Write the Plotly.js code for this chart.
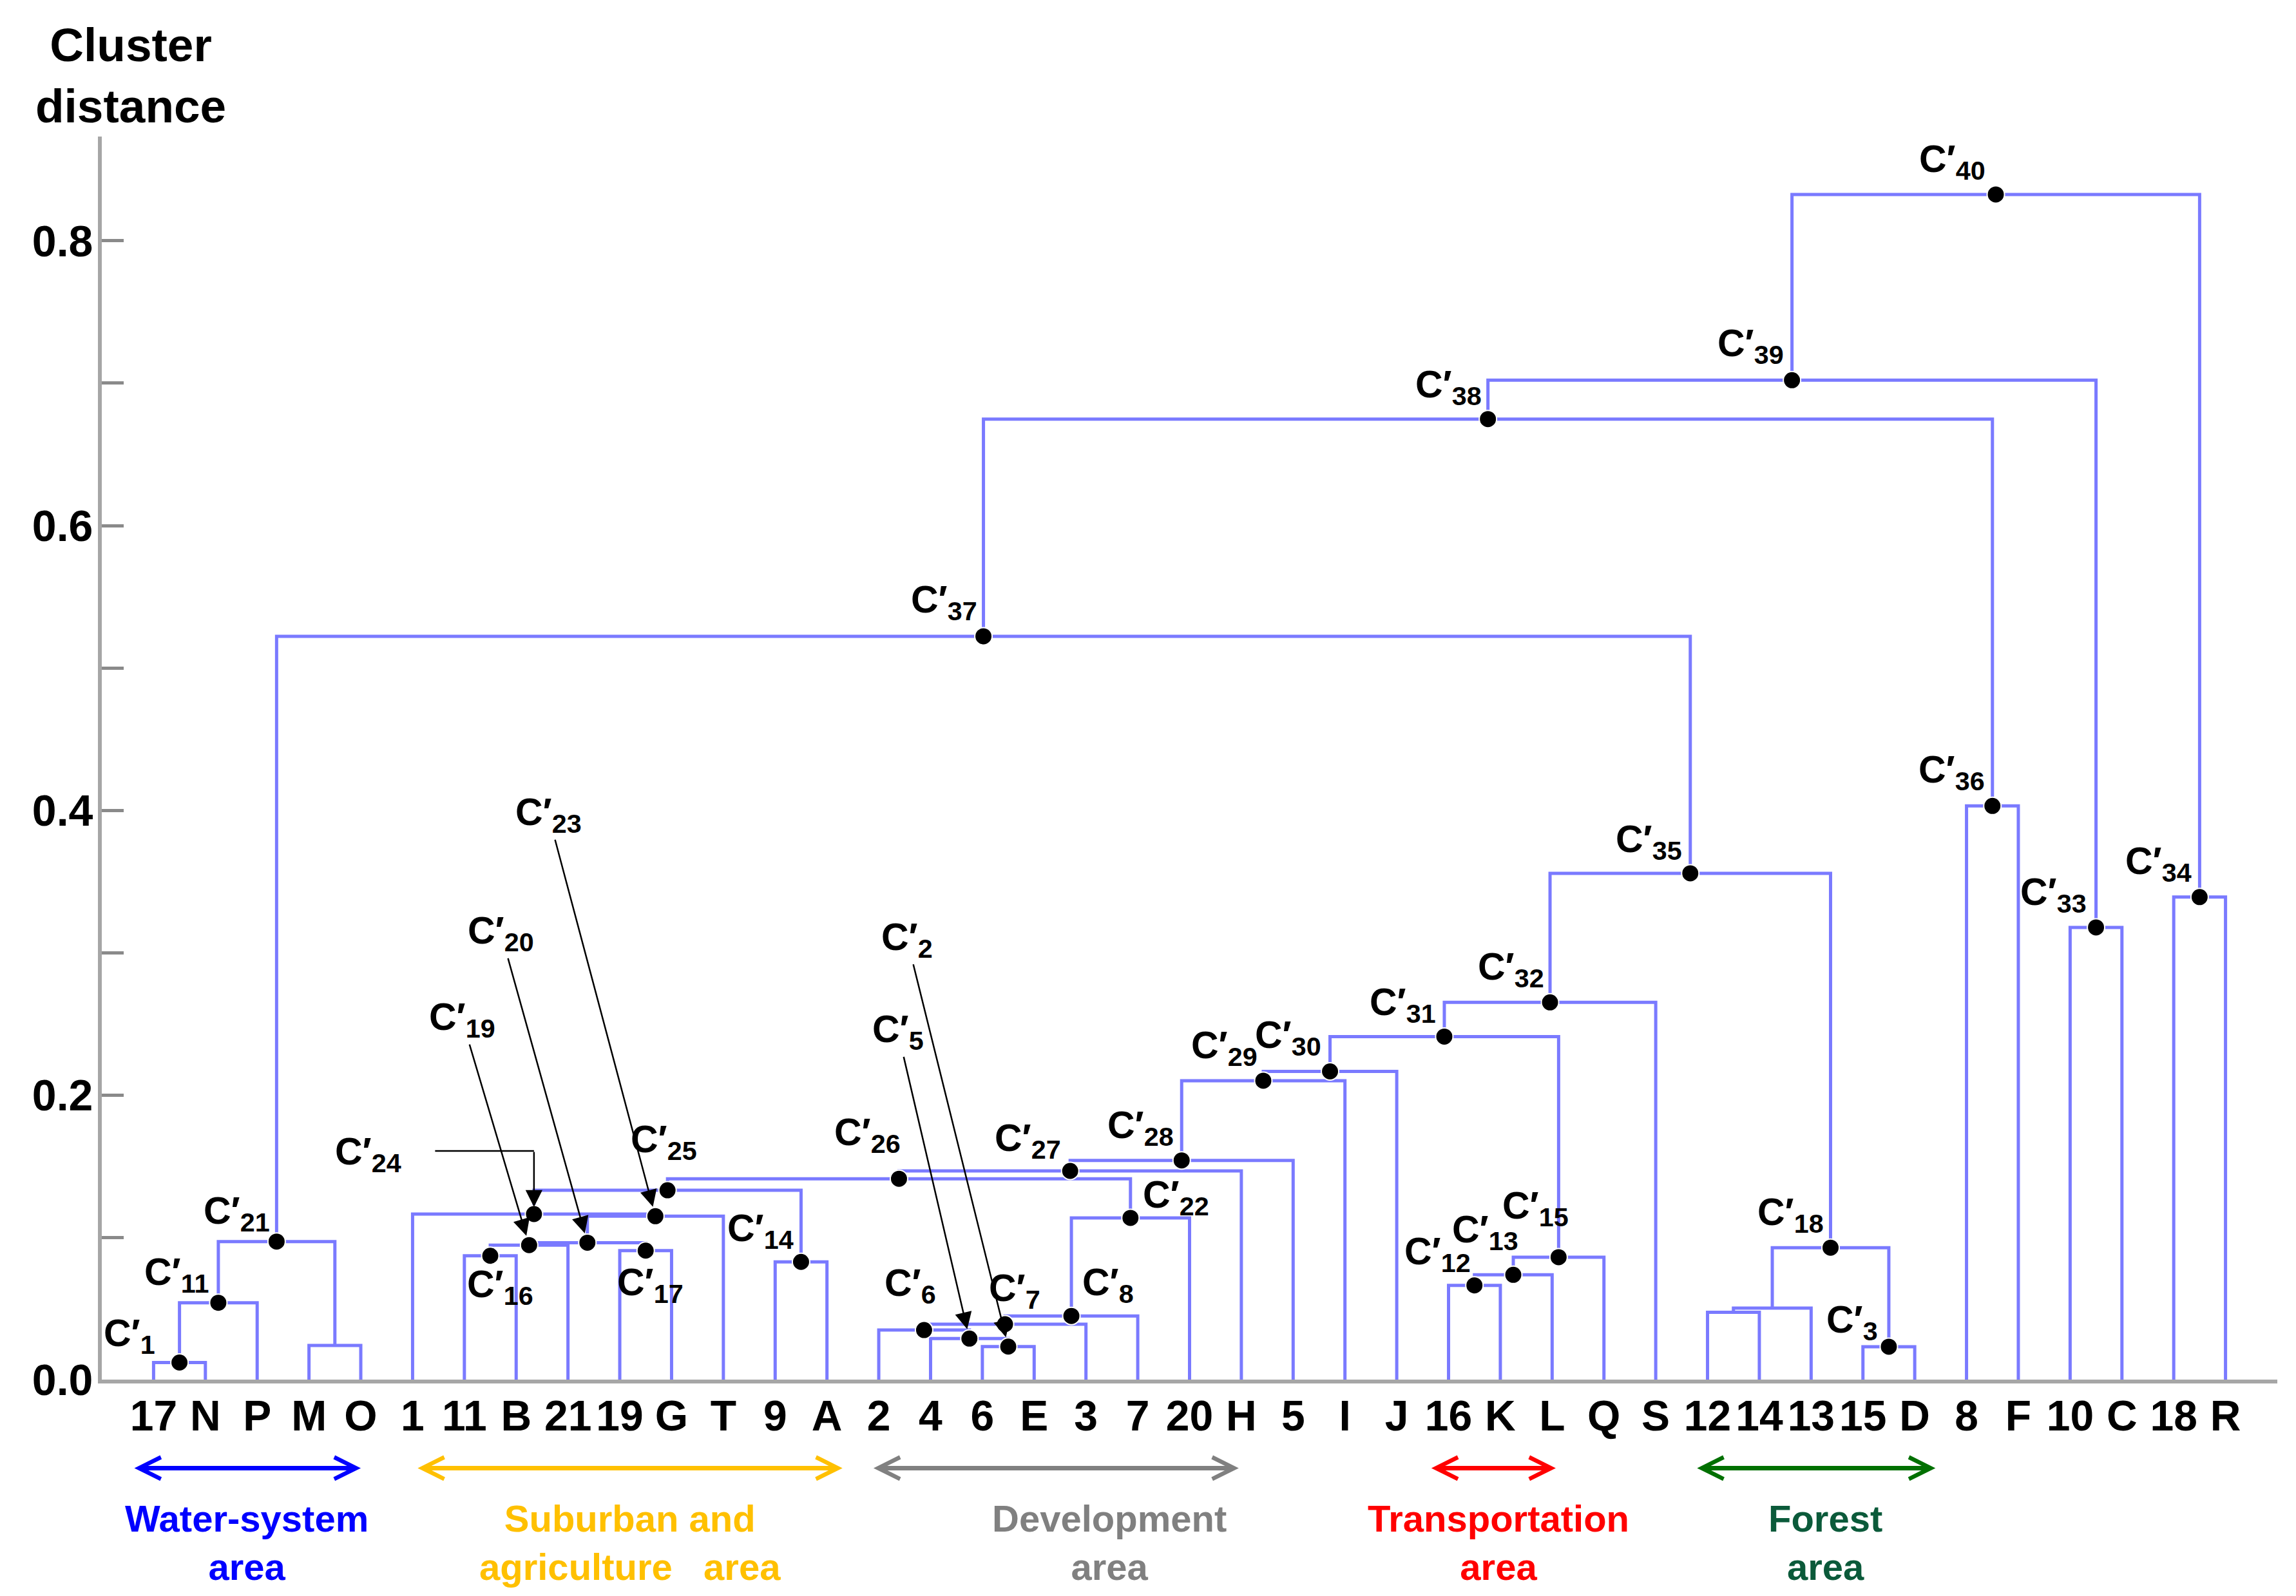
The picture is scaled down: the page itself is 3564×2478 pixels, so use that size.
<!DOCTYPE html>
<html>
<head>
<meta charset="utf-8">
<script src="https://cdn.plot.ly/plotly-3.0.1.min.js"></script>
<style>
html,body{margin:0;padding:0;background:#ffffff;}
#chart{width:3564px;height:2478px;}
</style>
</head>
<body>
<div id="chart"></div>
<script>
// ---------------- DATA ----------------
const leaves = ['17','N','P','M','O','1','11','B','21','19','G','T','9','A','2','4','6','E','3','7','20','H','5','I','J','16','K','L','Q','S','12','14','13','15','D','8','F','10','C','18','R'];

// merges (cluster id, left child, right child, cluster distance, label number or '' when unlabeled)
const clusterIds    = ['C1','C11','u1','C21','C16','C19','C17','C20','C23','C24','C14','C25','C2','C5','C6','C7','C8','C22','C26','C27','C28','C29','C30','C12','C13','C15','C31','C32','u2','u3','C3','C18','C35','C37','C36','C38','C33','C39','C34','C40'];
const clusterLeft   = ['17','C1','M','C11','11','C16','19','C19','C20','1','9','C24','6','4','2','C6','C7','C8','C25','C26','C27','C28','C29','16','C12','C13','C30','C31','12','u2','15','u3','C32','C21','8','C37','10','C38','18','C39'];
const clusterRight  = ['N','P','O','u1','B','21','G','C17','T','C23','A','C14','E','C2','C5','3','7','20','C22','H','5','I','J','K','L','Q','C15','S','14','13','D','C3','C18','C35','F','C36','C','C33','R','C34'];
const clusterHeight = [0.012,0.054,0.024,0.097,0.087,0.0945,0.0906,0.0962,0.1148,0.1163,0.0827,0.133,0.0232,0.0288,0.0348,0.0389,0.0447,0.1136,0.1411,0.1466,0.154,0.210,0.2165,0.0662,0.0736,0.086,0.241,0.265,0.0473,0.0502,0.0231,0.0927,0.3557,0.5222,0.403,0.6748,0.3177,0.7021,0.339,0.8326];
const clusterLabel  = ['1','11','','21','16','19','17','20','23','24','14','25','2','5','6','7','8','22','26','27','28','29','30','12','13','15','31','32','','','3','18','35','37','36','38','33','39','34','40'];

const groupNames      = ['Water-system<br>area','Suburban and<br>agriculture&nbsp;&nbsp; area','Development<br>area','Transportation<br>area','Forest<br>area'];
const groupFirstLeaf  = ['17','1','2','16','12'];
const groupLastLeaf   = ['O','A','H','L','D'];

const yTickVals = [0,0.2,0.4,0.6,0.8];

// ---------------- STYLE ----------------
const FONT = 'Liberation Sans, Arial, Helvetica, sans-serif';
const LINE_COLOR = '#7a7aff';
const groupArrowColors = ['#0000ff','#ffc000','#808080','#ff0000','#007000'];
const groupTextColors  = ['#0000ff','#ffc000','#808080','#ff0000','#0b5a3a'];
const groupArrowPad    = [[-0.39,0.0],[0.08,0.3],[-0.12,-0.05],[-0.35,0.07],[-0.22,0.4]]; // leaf units
const groupTextShift   = [-0.2,0.2,0.95,-0.04,0.27]; // leaf units from group centre
const GROUP_ARROW_Y = -0.0712, GROUP_TEXT_Y = -0.1309; // paper units below the plot

// label ink right/bottom relative to its node, px
const labelOffset = {
 '1':[-32,-11],'11':[-9,-14],'21':[-4,-14],'14':[-5,-18],'16':[73,78],'17':[65,83],'25':[52,-45],'26':[9,-38],
 '27':[-8,-17],'28':[-6,-21],'22':[128,-2],'6':[25,-39],'7':[61,-22],'8':[103,-18],'29':[-3,-21],'30':[-8,-23],
 '31':[-7,-19],'32':[-3,-21],'35':[-7,-19],'12':[0,-19],'13':[14,-36],'15':[22,-46],'18':[-5,-21],'3':[-11,-7.5],
 '36':[-6,-22],'33':[-9,-21],'34':[-6,-22],'37':[-4,-23],'38':[-4,-20],'39':[-7,-23],'40':[-10,-21]
};
// labels connected with an arrow: label centre relative to node, px
const labelArrow = {'19':[-104,-350],'20':[-134,-480],'23':[-166,-623],'5':[-111,-476],'2':[-157,-632]};

// ---------------- BUILD ----------------
const leafIndex = {};
leaves.forEach((l,i)=>{leafIndex[l]=i;});
const pos = {};
function node(id){ return pos[id] ? pos[id] : {x: leafIndex[id], h: 0}; }

const lx=[], ly=[];
const dx=[], dy=[];
clusterIds.forEach((id,i)=>{
  const a=node(clusterLeft[i]), b=node(clusterRight[i]), h=clusterHeight[i];
  lx.push(a.x,a.x,b.x,b.x,null);
  ly.push(a.h,h,h,b.h,null);
  pos[id]={x:(a.x+b.x)/2, h:h};
  if (clusterLabel[i]!=='') { dx.push(pos[id].x); dy.push(h); }
});

const traces = [
  {type:'scatter', mode:'lines', x:lx, y:ly, line:{color:LINE_COLOR, width:5}, hoverinfo:'skip'},
  {type:'scatter', mode:'markers', x:dx, y:dy, marker:{color:'#000000', size:27, line:{color:'#ffffff', width:2}}, cliponaxis:false, hoverinfo:'skip'}
];

const labFont = {family:FONT, size:59, color:'#000000', weight:'bold'};
const annotations = [];
clusterIds.forEach((id,i)=>{
  const n = clusterLabel[i];
  if (n==='') return;
  const p = pos[id];
  const txt = 'C′<sub>'+n+'</sub>';
  if (labelArrow[n]) {
    annotations.push({x:p.x, y:p.h, xref:'x', yref:'y', text:txt, showarrow:true,
      ax:labelArrow[n][0], ay:labelArrow[n][1], axref:'pixel', ayref:'pixel',
      arrowhead:2, arrowsize:2.1, arrowwidth:2.5, arrowcolor:'#000000', standoff:15, font:labFont});
  } else if (n==='24') {
    annotations.push({x:p.x, y:p.h, xref:'x', yref:'y', text:'', showarrow:true, ax:0, ay:-98,
      arrowhead:2, arrowsize:2.1, arrowwidth:2.5, arrowcolor:'#000000', standoff:11});
    annotations.push({x:p.x, y:p.h, xref:'x', yref:'y', yshift:98, text:'', showarrow:true, ax:-155, ay:0,
      arrowhead:0, arrowwidth:2.5, arrowcolor:'#000000'});
    annotations.push({x:p.x, y:p.h, xref:'x', yref:'y', text:txt, showarrow:false,
      xanchor:'center', yanchor:'middle', xshift:-257, yshift:93, font:labFont});
  } else {
    const o = labelOffset[n];
    annotations.push({x:p.x, y:p.h, xref:'x', yref:'y', text:txt, showarrow:false,
      xanchor:'right', yanchor:'bottom', xshift:o[0]-4, yshift:-o[1]-9, font:labFont});
  }
});

groupNames.forEach((g,i)=>{
  const a = leafIndex[groupFirstLeaf[i]], b = leafIndex[groupLastLeaf[i]];
  const s = a + groupArrowPad[i][0], e = b + groupArrowPad[i][1];
  annotations.push({x:e, y:GROUP_ARROW_Y, xref:'x', yref:'paper', ax:s, axref:'x', ay:0, ayref:'pixel',
    text:'', showarrow:true, arrowside:'end+start', arrowhead:5, startarrowhead:5,
    arrowsize:0.95, startarrowsize:0.95, arrowwidth:7, arrowcolor:groupArrowColors[i]});
  annotations.push({x:(a+b)/2 + groupTextShift[i], y:GROUP_TEXT_Y, xref:'x', yref:'paper', text:g, showarrow:false,
    xanchor:'center', yanchor:'middle', font:{family:FONT, size:58, color:groupTextColors[i], weight:'bold'}});
});

annotations.push({x:0.0133, y:1.0959, xref:'paper', yref:'paper', text:'Cluster<br>distance', showarrow:false,
  xanchor:'center', yanchor:'top', font:{family:FONT, size:73, color:'#000000', weight:'bold'}});

const layout = {
  width:3564, height:2478,
  margin:{l:158, r:29, t:212, b:336},
  paper_bgcolor:'#ffffff', plot_bgcolor:'#ffffff',
  showlegend:false,
  xaxis:{range:[-1,41], showgrid:false, zeroline:false, showline:true, linecolor:'#a6a6a6', linewidth:6,
    ticks:'', tickmode:'array', tickvals:leaves.map((l,i)=>i), ticktext:leaves, tickangle:0,
    ticklabelstandoff:-6, tickfont:{family:FONT, size:66, color:'#000000', weight:'bold'}, fixedrange:true},
  yaxis:{range:[0,0.8733], showgrid:false, zeroline:false, showline:true, linecolor:'#a6a6a6', linewidth:6,
    ticks:'inside', ticklen:34, tickwidth:5, tickcolor:'#8a8a8a', tickmode:'array', tickvals:yTickVals, tickformat:'.1f',
    minor:{dtick:0.1, tick0:0, ticks:'inside', ticklen:34, tickwidth:5, tickcolor:'#8a8a8a', showgrid:false},
    ticklabelstandoff:-6, tickfont:{family:FONT, size:68, color:'#000000', weight:'bold'}, fixedrange:true},
  annotations:annotations
};

Plotly.newPlot('chart', traces, layout, {displayModeBar:false, staticPlot:true});
</script>
</body>
</html>
